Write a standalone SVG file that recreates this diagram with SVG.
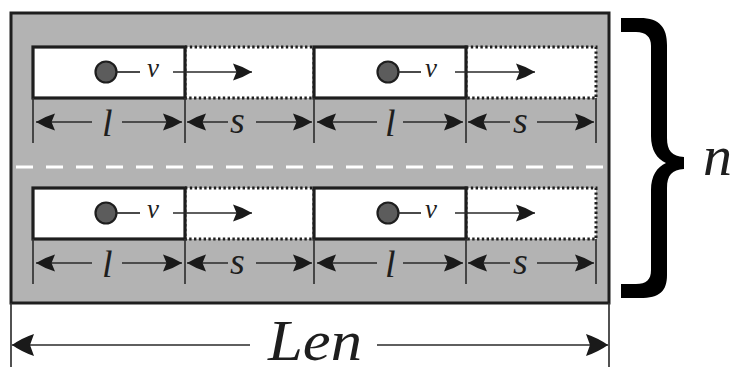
<svg xmlns="http://www.w3.org/2000/svg" width="738" height="367" viewBox="0 0 738 367">
  <style>
    .road { fill: #b3b3b3; stroke: #1e1e1e; stroke-width: 3; }
    .car { fill: #ffffff; stroke: #1e1e1e; stroke-width: 3.2; }
    .gap { fill: #ffffff; stroke: #1e1e1e; stroke-width: 3; stroke-dasharray: 2.4 2.4; }
    .dot { fill: #5c5c5c; stroke: #1e1e1e; stroke-width: 2.2; }
    .ln { stroke: #2a2a2a; stroke-width: 1.7; fill: none; }
    .tick { stroke: #333333; stroke-width: 1.7; }
    .arr { stroke: #2a2a2a; stroke-width: 1.7; fill: none; marker-end: url(#head); }
    .arrL { stroke: #2a2a2a; stroke-width: 1.7; fill: none; marker-end: url(#headL); }
    .lbl { font-family: "Liberation Serif", "Times New Roman", serif; font-style: italic; fill: #1e1e1e; }
    .lane { stroke: #ffffff; stroke-width: 3; stroke-dasharray: 17 13; }
  </style>
  <defs>
    <marker id="head" markerUnits="userSpaceOnUse" markerWidth="20" markerHeight="20" viewBox="0 0 20 20" refX="19" refY="10" orient="auto">
      <path d="M19,10 Q10,4.5 0,1.5 L3.5,10 L0,18.5 Q10,15.5 19,10 Z" fill="#1a1a1a"/>
    </marker>
    <marker id="headL" markerUnits="userSpaceOnUse" markerWidth="24" markerHeight="24" viewBox="0 0 24 24" refX="22" refY="12" orient="auto">
      <path d="M22,12 Q12,5 0,1 L4,12 L0,23 Q12,19 22,12 Z" fill="#1a1a1a"/>
    </marker>
    <!-- one lane: two vehicles with their gaps and dimension arrows -->
    <g id="lane">
      <rect class="gap" x="185" y="47" width="129" height="51"/>
      <rect class="gap" x="466" y="47" width="130" height="51"/>
      <rect class="car" x="33" y="47" width="152" height="51"/>
      <rect class="car" x="314" y="47" width="152" height="51"/>
      <!-- vehicle 1 -->
      <circle class="dot" cx="106" cy="72" r="10.5"/>
      <line class="ln" x1="116" y1="72" x2="140" y2="72"/>
      <text class="lbl" x="147" y="77" font-size="27">v</text>
      <line class="arr" x1="173" y1="72" x2="252" y2="72"/>
      <!-- vehicle 2 -->
      <circle class="dot" cx="388" cy="72" r="10.5"/>
      <line class="ln" x1="398" y1="72" x2="421" y2="72"/>
      <text class="lbl" x="425" y="77" font-size="27">v</text>
      <line class="arr" x1="455" y1="72" x2="535" y2="72"/>
      <!-- dimension ticks -->
      <line class="tick" x1="33" y1="98" x2="33" y2="143"/>
      <line class="tick" x1="185" y1="98" x2="185" y2="143"/>
      <line class="tick" x1="314" y1="98" x2="314" y2="143"/>
      <line class="tick" x1="466" y1="98" x2="466" y2="143"/>
      <line class="tick" x1="596" y1="98" x2="596" y2="143"/>
      <!-- l / s dimensions -->
      <line class="arr" x1="92" y1="122" x2="36" y2="122"/>
      <text class="lbl" x="102" y="136" font-size="38">l</text>
      <line class="arr" x1="122" y1="122" x2="182" y2="122"/>
      <line class="arr" x1="228" y1="122" x2="187" y2="122"/>
      <text class="lbl" x="230" y="133" font-size="38">s</text>
      <line class="arr" x1="256" y1="122" x2="312" y2="122"/>
      <line class="arr" x1="377" y1="122" x2="317" y2="122"/>
      <text class="lbl" x="385" y="136" font-size="38">l</text>
      <line class="arr" x1="403" y1="122" x2="463" y2="122"/>
      <line class="arr" x1="510" y1="122" x2="468" y2="122"/>
      <text class="lbl" x="513" y="133" font-size="38">s</text>
      <line class="arr" x1="537" y1="122" x2="594" y2="122"/>
    </g>
  </defs>

  <!-- road section -->
  <g id="road">
    <rect class="road" x="11" y="13" width="598" height="290"/>
    <line class="lane" x1="16" y1="167" x2="607" y2="167"/>
  </g>

  <g id="lane-top">
    <use href="#lane"/>
  </g>
  <g id="lane-bottom">
    <use href="#lane" transform="translate(0,141)"/>
  </g>

  <!-- overall length -->
  <g id="length">
    <line class="tick" x1="11" y1="303" x2="11" y2="367" stroke="#555"/>
    <line class="tick" x1="609" y1="303" x2="609" y2="367" stroke="#555"/>
    <line class="arrL" x1="250" y1="345" x2="12" y2="345"/>
    <text class="lbl" x="268" y="360" font-size="58" textLength="94" lengthAdjust="spacingAndGlyphs">Len</text>
    <line class="arrL" x1="377" y1="345" x2="608" y2="345"/>
  </g>

  <!-- lane count brace -->
  <g id="brace">
    <path d="M621,18 L640,18 C660,18 667,28 667,45 L667,138 C667,151 672,156 684,157 L684,169 C672,170 667,175 667,188 L667,275 C667,291 660,298 640,298 L621,298 L621,284 L636,284 C646,284 651,280 651,270 L651,190 C651,176 657,167 666,163 C657,159 651,150 651,136 L651,46 C651,37 646,32 636,32 L621,32 Z" fill="#000"/>
    <text class="lbl" x="703" y="175" font-size="58">n</text>
  </g>
</svg>
